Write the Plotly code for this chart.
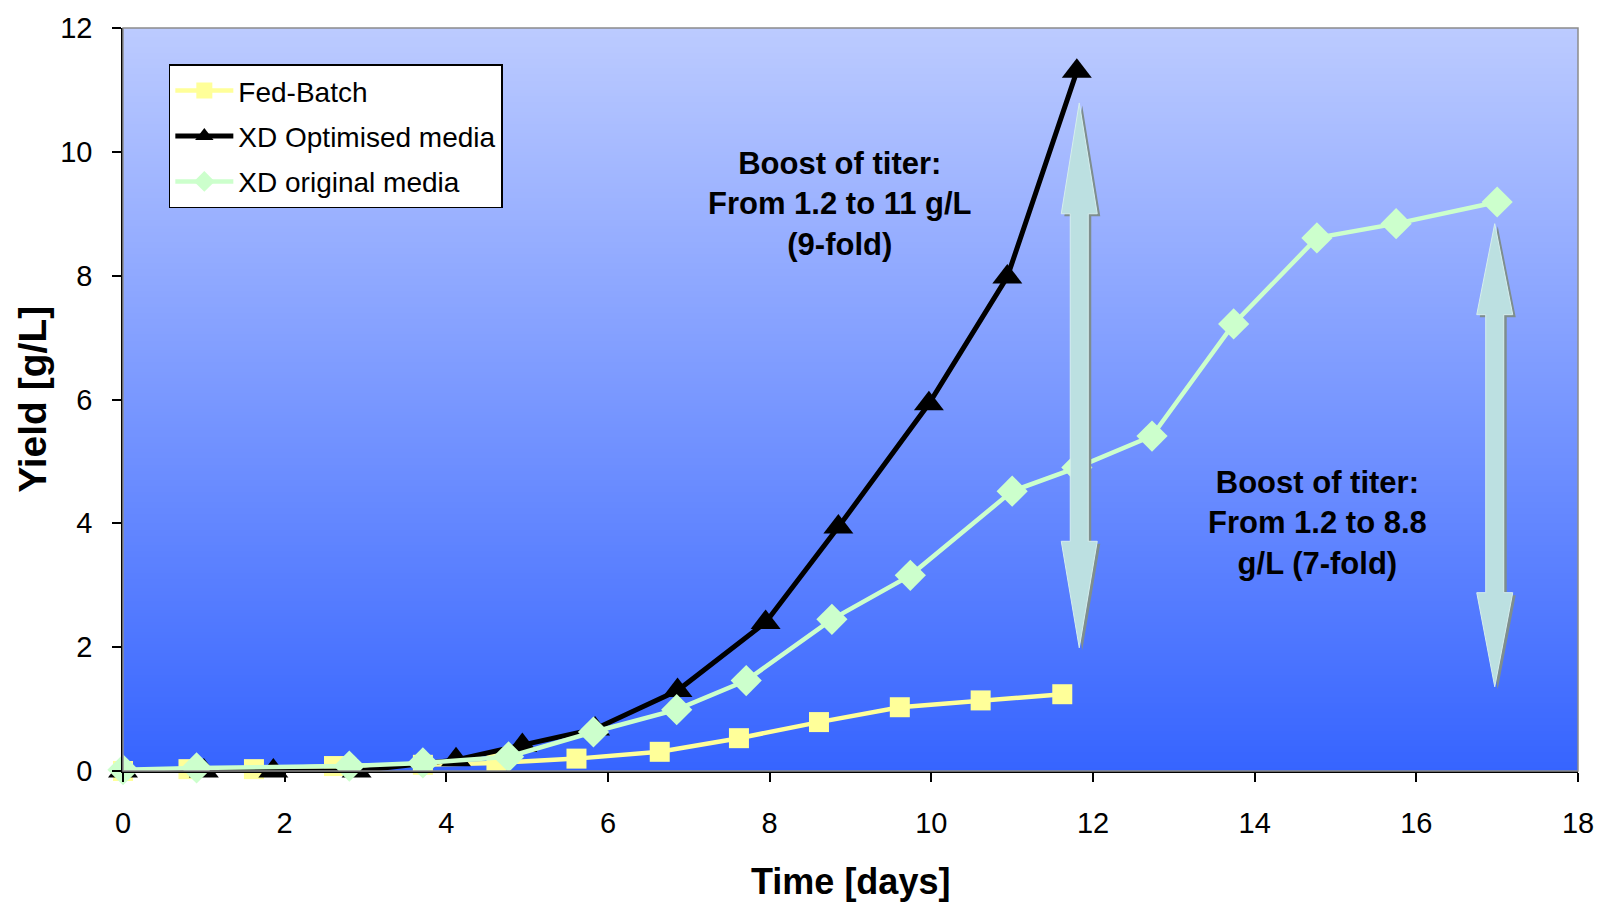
import plotly.graph_objects as go

# ---- data -------------------------------------------------------------
fed_days = [0.0, 0.81, 1.62, 2.61, 3.71, 4.62, 5.61, 6.64, 7.62, 8.61, 9.61, 10.61, 11.62]
fed_yield = [0.0, 0.03, 0.03, 0.08, 0.10, 0.13, 0.20, 0.31, 0.53, 0.79, 1.03, 1.14, 1.24]

opt_days = [0.0, 1.0, 1.86, 2.89, 4.12, 4.94, 5.84, 6.86, 7.95, 8.85, 9.97, 10.94, 11.8]
opt_yield = [0.0, 0.0, 0.0, 0.0, 0.18, 0.41, 0.68, 1.30, 2.40, 3.94, 5.93, 7.98, 11.3]

orig_days = [0.0, 0.91, 2.80, 3.71, 4.77, 5.82, 6.85, 7.71, 8.77, 9.74, 11.0, 11.8, 12.73, 13.74, 14.77, 15.75, 17.0]
orig_yield = [0.02, 0.05, 0.08, 0.13, 0.23, 0.63, 0.99, 1.46, 2.45, 3.16, 4.52, 4.9, 5.41, 7.22, 8.61, 8.84, 9.19]

x_ticks = [0, 2, 4, 6, 8, 10, 12, 14, 16, 18]
y_ticks = [0, 2, 4, 6, 8, 10, 12]

# double-headed "boost" arrows: (day, top tip, top head base, bottom head base, bottom tip)
boost_arrows = [
    (11.83, 10.79, 9.00, 3.71, 1.99),
    (16.97, 8.84, 7.37, 2.88, 1.36),
]

boost_texts = [
    (8.87, 9.15, "<b>Boost of titer:<br>From 1.2 to 11 g/L<br>(9-fold)</b>"),
    (14.78, 4.0, "<b>Boost of titer:<br>From 1.2 to 8.8<br>g/L (7-fold)</b>"),
]

FONT = "Liberation Sans, Arial, sans-serif"
X_MAX, Y_MAX = 18, 12

fig = go.Figure()

# vertical gradient behind the data, rendered as one smooth heatmap image
n_rows = 240
grad_y = [Y_MAX * (i + 0.5) / n_rows for i in range(n_rows)]
grad_z = [[v / Y_MAX, v / Y_MAX] for v in grad_y]
fig.add_trace(go.Heatmap(
    x=[0, X_MAX], y=grad_y, z=grad_z, zmin=0, zmax=1,
    colorscale=[[0, "rgb(54,100,255)"], [1, "rgb(188,203,255)"]],
    showscale=False, hoverinfo="skip", showlegend=False,
))

fig.add_trace(go.Scatter(
    x=fed_days, y=fed_yield, name="Fed-Batch", mode="lines+markers",
    legendgroup="fed", cliponaxis=False,
    line=dict(color="#FFFF99", width=4.5),
    marker=dict(symbol="square", size=20, color="#FFFF99"),
))
fig.add_trace(go.Scatter(
    x=opt_days, y=opt_yield, name="XD Optimised media", mode="lines+markers",
    legendgroup="opt", cliponaxis=False,
    line=dict(color="#000000", width=5),
    marker=dict(symbol="triangle-up", size=26, color="#000000"),
))
fig.add_trace(go.Scatter(
    x=orig_days, y=orig_yield, name="XD original media", mode="lines+markers",
    legendgroup="orig", cliponaxis=False,
    line=dict(color="#CCFFCC", width=4.5),
    marker=dict(symbol="diamond", size=24, color="#CCFFCC"),
))

shapes = []

# gray plot-area frame
shapes.append(dict(
    type="rect", xref="x domain", yref="y domain", layer="above",
    x0=0, x1=1, y0=0, y1=1, line=dict(color="#8C8C8C", width=1.5),
))


def arrow_path(dx, top, head_top, head_bot, bot, shaft=9, head=18, dy=0.0):
    pts = [
        (0, top), (head, head_top), (shaft, head_top), (shaft, head_bot),
        (head, head_bot), (0, bot), (-head, head_bot), (-shaft, head_bot),
        (-shaft, head_top), (-head, head_top),
    ]
    return "M " + " L ".join(f"{x + dx},{y - dy}" for x, y in pts) + " Z"


for day, top, htop, hbot, bot in boost_arrows:
    # drop shadow
    shapes.append(dict(
        type="path", xref="x", yref="y", xsizemode="pixel", xanchor=day,
        layer="above", path=arrow_path(3, top, htop, hbot, bot, dy=0.04),
        fillcolor="#7E8E8E", line=dict(width=0),
    ))
    # arrow body
    shapes.append(dict(
        type="path", xref="x", yref="y", xsizemode="pixel", xanchor=day,
        layer="above", path=arrow_path(0, top, htop, hbot, bot),
        fillcolor="#BCE0E1", line=dict(color="#D6EEEE", width=1),
    ))

annotations = []
for x, y, txt in boost_texts:
    annotations.append(dict(
        x=x, y=y, xref="x", yref="y", text=txt, showarrow=False,
        font=dict(family=FONT, size=31, color="#000000"),
        align="center", xanchor="center", yanchor="middle",
    ))

# axis titles
annotations.append(dict(
    x=0.5, y=-0.149, xref="paper", yref="paper", text="<b>Time [days]</b>",
    showarrow=False, font=dict(family=FONT, size=36, color="#000000"),
    xanchor="center", yanchor="middle",
))
annotations.append(dict(
    x=-0.0623, y=0.5, xref="paper", yref="paper", text="<b>Yield [g/L]</b>",
    showarrow=False, textangle=-90, font=dict(family=FONT, size=39, color="#000000"),
    xanchor="center", yanchor="middle",
))

fig.update_layout(
    width=1606, height=903,
    margin=dict(l=123, r=22, t=27, b=132),
    paper_bgcolor="#FFFFFF", plot_bgcolor="#3A66FF",
    font=dict(family=FONT, color="#000000"),
    shapes=shapes, annotations=annotations,
    showlegend=True,
    legend=dict(
        x=0.0315, y=0.951, xanchor="left", yanchor="top",
        bgcolor="#FFFFFF", bordercolor="#000000", borderwidth=1.5,
        font=dict(family=FONT, size=28, color="#000000"),
        itemwidth=58, tracegroupgap=6,
    ),
    xaxis=dict(
        range=[0, X_MAX], tickvals=x_ticks, ticktext=[str(v) for v in x_ticks],
        showgrid=False, zeroline=False, showline=True, linecolor="#000000", linewidth=1.5,
        ticks="outside", ticklen=9, tickcolor="#000000", tickwidth=1.5,
        tickfont=dict(family=FONT, size=29, color="#000000"),
        ticklabelstandoff=16,
    ),
    yaxis=dict(
        range=[0, Y_MAX], tickvals=y_ticks, ticktext=[str(v) for v in y_ticks],
        showgrid=False, zeroline=False, showline=True, linecolor="#000000", linewidth=1.5,
        ticks="outside", ticklen=9, tickcolor="#000000", tickwidth=1.5,
        tickfont=dict(family=FONT, size=29, color="#000000"),
        ticklabelstandoff=14,
    ),
)

fig.write_html("out.html")
